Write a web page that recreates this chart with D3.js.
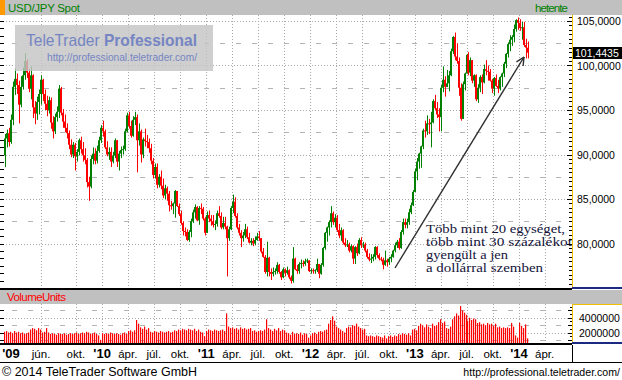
<!DOCTYPE html>
<html><head><meta charset="utf-8">
<script src="https://cdn.jsdelivr.net/npm/d3@7"></script>
<style>
html,body{margin:0;padding:0;background:#fff;}
svg{display:block;font-family:"Liberation Sans",Arial,sans-serif;}
</style></head><body>
<svg id="c" width="622" height="380"></svg>
<script>
// ---------- data ----------
const firstWeek = "2009-01-26";
const firstOpen = 89.9;
const closes = [91.8,92.4,91.4,93.9,97.6,98.5,97.8,95.6,97.6,98.9,100.5,99.2,97.4,98.9,95.3,94.6,95.9,96.8,98.4,96.8,
95.7,95.0,96.1,93.6,92.6,94.2,94.8,97.4,94.7,93.7,93.0,92.4,91.1,90.0,91.1,89.8,90.3,91.6,90.6,89.9,
89.4,86.9,86.4,89.5,90.1,89.3,90.4,91.6,93.0,92.6,90.8,90.0,90.3,89.2,89.9,91.6,89.2,90.1,90.5,90.6,
92.6,94.4,93.2,92.1,93.9,94.2,91.6,92.6,90.0,91.7,91.5,91.4,90.7,89.3,87.7,88.6,86.6,87.5,86.5,85.4,
86.2,85.6,84.3,84.2,84.5,85.9,84.2,83.3,82.3,81.4,81.3,80.4,81.3,82.5,83.5,84.1,82.6,84.0,83.9,82.8,
81.2,83.2,82.8,82.5,82.1,82.2,83.4,83.1,81.8,82.3,81.9,80.6,81.6,84.0,84.7,83.1,81.8,81.2,80.6,80.9,
81.6,80.7,80.1,80.3,80.0,80.4,80.8,80.6,79.1,78.5,76.8,78.4,76.8,76.6,76.8,76.9,77.6,76.8,76.2,77.1,
76.7,77.0,76.2,75.8,78.3,77.1,76.9,77.7,77.8,77.7,78.0,78.1,76.9,77.0,76.9,77.0,77.7,76.6,77.6,79.5,
81.2,81.8,82.4,83.4,82.4,82.9,81.5,80.9,81.5,80.1,79.8,79.9,79.2,79.7,78.3,79.6,78.9,80.4,79.8,79.9,
79.2,78.5,78.2,78.3,78.5,79.6,78.7,78.3,78.2,77.6,78.1,77.9,78.3,78.5,79.2,79.8,80.2,79.5,81.3,82.4,
82.1,82.4,83.5,84.3,85.8,88.1,89.2,90.1,90.9,92.7,92.6,93.5,93.4,93.6,96.0,95.2,94.5,94.2,97.5,98.4,
97.6,98.0,98.9,101.6,103.2,101.0,100.5,97.5,94.0,97.9,99.1,101.2,99.2,100.6,98.3,98.9,96.2,97.5,98.7,98.1,
99.6,99.4,99.3,98.3,97.4,98.6,97.7,97.4,98.7,99.1,100.2,101.3,102.4,102.9,103.2,104.1,105.1,104.8,104.2,104.3,
102.3,102.0,101.44];
const highs = [92.3,92.8,93.0,94.5,98.2,99.7,99.1,98.3,98.8,99.8,101.4,100.7,99.6,99.9,99.0,96.0,96.5,97.3,98.9,98.5,
97.3,96.6,96.5,96.4,94.3,94.6,95.4,97.8,97.6,95.1,94.5,93.5,92.7,91.7,91.4,91.3,90.6,91.8,92.0,91.4,
90.7,89.6,87.5,89.9,90.8,90.7,91.0,92.0,93.3,93.8,92.8,91.5,90.8,90.8,90.3,91.8,91.6,90.4,90.9,91.0,
92.9,94.7,94.8,93.8,94.3,94.8,94.5,93.5,92.8,91.9,92.9,92.2,91.8,91.2,89.6,89.0,89.0,87.8,88.2,87.3,
86.6,86.4,85.9,84.8,84.6,86.0,85.9,84.5,83.7,82.5,81.8,81.6,81.5,82.8,83.8,84.4,84.2,84.2,84.5,84.1,
83.0,83.6,83.7,83.2,83.2,82.6,83.7,84.2,83.5,83.0,83.0,82.0,81.9,84.2,85.5,85.2,83.4,82.2,81.5,81.3,
82.2,81.9,81.2,80.6,80.6,80.8,81.2,81.4,80.6,79.5,78.7,80.2,78.5,77.2,77.3,77.2,77.9,77.7,76.9,77.3,
77.2,77.4,77.1,76.4,79.6,78.4,77.6,77.9,78.2,78.1,78.3,78.3,78.1,77.2,77.2,77.1,78.3,77.7,77.8,79.6,
81.3,81.9,82.6,84.2,83.6,83.3,83.2,82.2,81.8,81.6,80.6,80.4,80.1,79.9,79.8,79.7,80.0,80.6,80.7,80.2,
80.1,79.4,78.9,78.8,78.8,79.7,79.7,78.9,78.5,78.4,79.2,78.3,78.5,78.8,79.3,80.1,80.4,80.6,81.5,82.8,
82.8,82.8,83.9,84.6,86.0,88.4,89.6,90.2,91.0,92.9,93.8,94.4,94.0,94.8,96.2,96.7,95.9,95.2,97.8,99.9,
98.8,99.5,99.4,101.9,103.3,103.7,102.5,100.9,98.0,98.2,99.2,101.3,101.5,100.9,100.6,99.0,99.0,97.9,98.9,99.0,
100.1,100.6,100.0,99.6,98.5,98.7,99.0,98.4,98.8,99.2,100.4,101.4,102.6,103.4,103.4,104.6,105.2,105.4,105.2,104.9,
104.9,103.0,102.7];
const lows = [88.6,90.8,90.9,91.2,93.3,96.7,96.8,93.5,95.3,97.3,98.4,98.6,97.0,96.2,94.1,93.4,93.9,94.5,95.6,96.0,
95.0,94.3,94.6,92.9,91.8,92.3,93.7,94.1,94.4,93.0,92.5,91.8,90.6,89.7,89.6,88.2,89.2,89.9,90.1,89.2,
88.9,86.3,84.8,86.2,88.9,88.9,89.0,90.2,91.3,92.0,90.6,89.8,89.4,88.6,89.0,89.6,88.6,88.2,89.6,90.0,
90.4,92.5,92.9,91.9,92.0,93.3,88.0,91.0,89.1,89.6,90.9,90.7,90.2,88.9,87.3,87.3,86.2,86.3,86.1,85.1,
85.0,84.8,83.6,83.8,83.3,82.9,84.1,83.1,82.1,80.9,80.8,80.3,80.2,80.7,82.3,82.8,82.5,82.1,83.3,82.6,
80.9,81.2,82.4,82.0,81.8,81.5,81.9,82.9,81.6,81.6,81.6,76.3,80.3,81.5,83.4,82.9,81.6,80.9,79.6,80.2,
80.6,80.5,80.0,79.8,79.7,79.8,80.3,80.3,78.9,78.4,76.6,76.3,76.3,75.9,76.3,76.5,76.6,76.6,75.9,76.1,
76.3,76.5,76.0,75.5,75.6,77.0,76.6,76.6,77.2,77.4,77.5,77.8,76.8,76.6,76.6,76.6,76.8,76.1,76.5,77.4,
79.3,80.2,80.9,81.8,82.1,81.8,81.3,80.6,80.3,79.9,79.6,79.6,79.0,79.0,77.7,77.7,78.6,78.8,79.5,79.5,
79.0,78.3,78.0,77.8,78.0,78.2,78.4,78.1,78.0,77.1,77.5,77.4,77.6,77.9,78.4,79.0,79.5,79.3,79.4,81.0,
81.7,81.7,82.1,83.3,84.2,85.8,87.1,88.4,88.5,90.6,91.9,92.2,92.3,90.8,93.5,95.0,94.1,92.6,92.6,97.0,
96.5,97.6,97.1,98.8,101.3,100.6,100.2,96.6,93.8,94.0,97.2,99.1,98.9,98.8,98.0,97.6,96.0,95.8,97.0,96.8,
98.0,98.9,98.3,98.2,96.9,96.6,97.6,96.9,97.2,97.6,98.7,99.7,100.9,101.6,102.2,102.6,103.8,104.0,103.9,102.9,
102.1,100.8,100.8];
const volumesM = [2.1,2.2,2.0,2.1,1.9,2.2,2.0,2.1, 1.9,2.0,1.8,1.9,2.0, 2.4,2.6,2.5,2.3,2.6,2.4,2.0, 2.1,2.6,2.0,
1.8,1.9,1.8,1.7,1.9,1.8,1.8,1.9,1.7,1.8,1.9,1.8,
1.9,2.0,1.8,1.9,2.0,1.9,2.1,2.0,1.8,1.9,2.0,1.8,1.6, 1.0,
1.9,1.8,1.9,1.8,2.0,1.9,1.8,1.9,1.8,1.7,1.9,2.0,1.8,
2.2,2.3,2.1,2.3, 3.7,3.2,2.7, 2.5,2.8,2.4,2.6,
2.1,2.0,2.2,2.1,2.0,2.2,2.1,2.0,2.1,2.2,2.0,2.1,2.3,2.2,
2.4,2.3,2.5,2.4,2.3,2.5,2.4,2.3,2.5,2.2,2.4, 2.1,2.0,1.5,
2.2,2.4,2.3,2.2,2.4,2.3,2.2,2.3,2.4,2.2, 4.6,
2.8,2.6,2.7,2.5,2.6,2.4,2.7,2.5,2.6,2.4,2.5,2.6,
2.2,2.3,2.1,2.2,2.3,2.2,2.4, 3.8,
2.6,2.4,2.2,2.5,2.3,2.6,2.2,2.4,2.3,
2.0,1.9,1.7,2.1,1.8,1.9,1.8,2.0,1.7,1.9,1.8, 1.3,
1.6,1.9,2.0,1.8,2.1,2.2,2.1,2.3,2.4,
3.2,3.7,4.2,3.6, 2.8,2.6,2.4,2.2,2.0,
2.6,2.8,2.7,3.0,2.9,3.2,2.8,2.6,2.4,2.5,
1.6,1.5,1.6,1.5,1.4,1.6,1.5,1.4,
1.3,1.6,1.2,1.5,1.6,1.4,1.6,1.5,
1.8,1.7,1.9,1.8,1.7,1.9,1.6, 2.4,2.5,2.3,
2.9,3.2,3.0,2.7,3.1,2.8,2.6,3.2,2.9,3.0,
3.4,3.8,3.3,3.5, 2.6,2.5,2.8, 3.8,4.2,4.6,4.3, 5.6, 5.0,4.7,4.4,
3.6,4.0,3.7,3.9,3.8, 3.3,3.4,3.1,3.2,3.0,3.3,3.1,3.2,
2.9,3.2,2.7,2.8,2.6,2.7,2.6, 2.7,2.6,3.3,2.8, 1.6,1.3, 3.3,2.9, 2.6, 3.1, 1.2];
const tickDates = ["2009-01-01","2009-06-01","2009-10-01","2010-01-01","2010-04-01","2010-07-01","2010-10-01",
"2011-01-01","2011-04-01","2011-07-01","2011-10-01","2012-01-01","2012-04-01","2012-07-01","2012-10-01",
"2013-01-01","2013-04-01","2013-07-01","2013-10-01","2014-01-01","2014-04-01"];
const tickLabels = ["'09","jún.","okt.","'10","ápr.","júl.","okt.","'11","ápr.","júl.","okt.",
"'12","ápr.","júl.","okt.","'13","ápr.","júl.","okt.","'14","ápr."];
const priceTicks = [80,85,90,95,100,105];
const volumeTicks = [2,4];
const lastPrice = 101.4435;
const annotationLines = ["Több mint 20 egységet,","több mint 30 százalékot","gyengült a jen","a dollárral szemben"];

// ---------- layout ----------
const W = 622, H = 380;
const plotR = 572;
const mainTop = 15, mainBot = 288;
const volTop = 304, volBot = 343;
const GREEN = "#008000", RED = "#ff0000";
const svg = d3.select("#c");
const parse = d3.timeParse("%Y-%m-%d");
const start = parse(firstWeek);
const weeks = closes.map((c,i)=>({
  date: d3.timeDay.offset(start, 7*i),
  o: i===0 ? firstOpen : closes[i-1], c, h: highs[i], l: lows[i], v: volumesM[i]
}));

const x = d3.scaleTime().domain([new Date(2009,0,1), new Date(2014,0,1)]).range([-2, 519]);
const y = d3.scaleLinear().domain([80,105]).range([243.5,21]);
const yv = d3.scaleLinear().domain([0,4]).range([347.2,317.8]);
const ticks = tickDates.map((d,i)=>({date: parse(d), label: tickLabels[i], year: tickLabels[i].startsWith("'")}));

svg.append("rect").attr("width",W).attr("height",H).attr("fill","#fff");
const defs = svg.append("defs");
defs.append("clipPath").attr("id","cm").append("rect").attr("x",0).attr("y",mainTop).attr("width",plotR).attr("height",mainBot-mainTop);
defs.append("clipPath").attr("id","cv").append("rect").attr("x",0).attr("y",volTop).attr("width",plotR).attr("height",volBot-volTop);

// ---------- main panel ----------
const gm = svg.append("g").attr("clip-path","url(#cm)");
const dotted = {stroke:"#a8a8a8", dash:"1,2"};
priceTicks.forEach(p=>{
  gm.append("line").attr("x1",0).attr("x2",plotR).attr("y1",Math.round(y(p))+0.5).attr("y2",Math.round(y(p))+0.5)
    .attr("stroke",dotted.stroke).attr("stroke-dasharray",dotted.dash);
});
d3.range(priceTicks.length-1).forEach(k=>{
  const p = (priceTicks[k]+priceTicks[k+1])/2;
  gm.append("line").attr("x1",12).attr("x2",plotR).attr("y1",Math.round(y(p))+0.5).attr("y2",Math.round(y(p))+0.5)
    .attr("stroke","#b4b4b4").attr("stroke-dasharray","5,11");
});
ticks.forEach(t=>{
  const xx = Math.round(x(t.date))+0.5;
  if (xx < 2) return;
  gm.append("line").attr("x1",xx).attr("x2",xx).attr("y1",mainTop).attr("y2",mainBot)
    .attr("stroke",dotted.stroke).attr("stroke-dasharray",dotted.dash);
});
// left edge small ticks
d3.range(75,106,5/6).forEach(p=>{
  gm.append("line").attr("x1",0).attr("x2",4).attr("y1",Math.round(y(p))+0.5).attr("y2",Math.round(y(p))+0.5).attr("stroke","#000");
});
// candles
const cg = gm.append("g");
weeks.forEach(d=>{
  const xi = Math.round(x(d.date));
  const col = d.c >= d.o ? GREEN : RED;
  const top = y(Math.max(d.o,d.c)), bot = y(Math.min(d.o,d.c));
  const hi = y(Math.max(d.h, d.o, d.c)), lo = y(Math.min(d.l, d.o, d.c));
  cg.append("rect").attr("x",xi).attr("y",hi).attr("width",1).attr("height",Math.max(1,lo-hi)).attr("fill",col);
  cg.append("rect").attr("x",xi-1).attr("y",top).attr("width",2).attr("height",Math.max(1,bot-top)).attr("fill",col);
});

// logo
const logo = svg.append("g");
logo.append("rect").attr("x",15).attr("y",25).attr("width",198).attr("height",46).attr("fill","#c4c4c4").attr("opacity",0.82);
const lt = logo.append("text").attr("x",26).attr("y",46).attr("font-size",17).attr("fill","#7585c3")
  .attr("textLength",171).attr("lengthAdjust","spacingAndGlyphs");
lt.append("tspan").text("TeleTrader ");
lt.append("tspan").attr("font-weight","bold").text("Professional");
logo.append("text").attr("x",47).attr("y",61).attr("font-size",11).attr("fill","#7585c3")
  .attr("textLength",150).attr("lengthAdjust","spacingAndGlyphs").text("http://professional.teletrader.com/");

// annotation arrow
const ax1 = 395, ay1 = 268, ax2 = 524, ay2 = 57;
const ann = svg.append("g").attr("stroke","#303030").attr("stroke-width",1.4).attr("fill","none");
ann.append("line").attr("x1",ax1).attr("y1",ay1).attr("x2",ax2).attr("y2",ay2);
const ang = Math.atan2(ay2-ay1, ax2-ax1);
[-0.45,0.45].forEach(a=>{
  ann.append("line").attr("x1",ax2).attr("y1",ay2)
    .attr("x2",ax2-9*Math.cos(ang+a)).attr("y2",ay2-9*Math.sin(ang+a));
});
const annW = [139,146,82,117];
annotationLines.forEach((s,i)=>{
  svg.append("text").attr("x",426).attr("y",232.5+i*13.1)
    .attr("font-family","'Liberation Serif','DejaVu Serif',serif")
    .attr("font-size",11.8).attr("fill","#14143a")
    .attr("textLength",annW[i]).attr("lengthAdjust","spacingAndGlyphs").text(s);
});

// title bar
svg.append("rect").attr("x",0).attr("y",0).attr("width",W).attr("height",15).attr("fill","#c0c0c0");
svg.append("rect").attr("x",0).attr("y",0).attr("width",5).attr("height",15).attr("fill","#ff9900");
svg.append("text").attr("x",8).attr("y",12).attr("font-size",11.5).attr("fill",GREEN).attr("textLength",72).text("USD/JPY Spot");
svg.append("text").attr("x",535).attr("y",12).attr("font-size",11.5).attr("fill",GREEN).attr("textLength",33).text("hetente");

// right price axis
svg.append("line").attr("x1",plotR+0.5).attr("x2",plotR+0.5).attr("y1",mainTop).attr("y2",mainBot).attr("stroke","#f0c000");
d3.range(75.5,105.6,0.5).forEach(p=>{
  const major = Math.abs(p/5-Math.round(p/5))<1e-6;
  const yy = Math.round(y(p))+0.5;
  svg.append("line").attr("x1",plotR-(major?5:3)).attr("x2",plotR).attr("y1",yy).attr("y2",yy).attr("stroke","#000");
});
priceTicks.forEach(p=>{
  svg.append("text").attr("x",577).attr("y",y(p)+4).attr("font-size",10.5).attr("fill","#000")
    .text(d3.format(".4f")(p).replace(".",","));
});
svg.append("rect").attr("x",573).attr("y",Math.round(y(lastPrice))-6).attr("width",49).attr("height",12).attr("fill","#000");
svg.append("text").attr("x",575).attr("y",Math.round(y(lastPrice))+4).attr("font-size",10.5).attr("fill","#fff")
  .text(d3.format(".4f")(lastPrice).replace(".",","));

// separators
svg.append("rect").attr("x",0).attr("y",mainBot).attr("width",plotR).attr("height",2).attr("fill","#000");
svg.append("rect").attr("x",plotR).attr("y",mainBot-1).attr("width",W-plotR).attr("height",2).attr("fill","#1a2a80");

// ---------- volume panel ----------
svg.append("rect").attr("x",0).attr("y",290).attr("width",W).attr("height",14).attr("fill","#c0c0c0");
svg.append("text").attr("x",7).attr("y",301).attr("font-size",11.5).attr("fill",RED).attr("textLength",59).text("VolumeUnits");
const gv = svg.append("g").attr("clip-path","url(#cv)");
[1,3,5].forEach(v=>{
  gv.append("line").attr("x1",12).attr("x2",plotR).attr("y1",Math.round(yv(v))+0.5).attr("y2",Math.round(yv(v))+0.5)
    .attr("stroke","#b4b4b4").attr("stroke-dasharray","5,11");
});
volumeTicks.forEach(v=>{
  gv.append("line").attr("x1",0).attr("x2",plotR).attr("y1",Math.round(yv(v))+0.5).attr("y2",Math.round(yv(v))+0.5)
    .attr("stroke",dotted.stroke).attr("stroke-dasharray",dotted.dash);
});
ticks.forEach(t=>{
  const xx = Math.round(x(t.date))+0.5;
  if (xx < 2) return;
  gv.append("line").attr("x1",xx).attr("x2",xx).attr("y1",volTop).attr("y2",volBot)
    .attr("stroke",dotted.stroke).attr("stroke-dasharray",dotted.dash);
});
d3.range(1,6,1).forEach(v=>{
  gv.append("line").attr("x1",0).attr("x2",4).attr("y1",Math.round(yv(v))+0.5).attr("y2",Math.round(yv(v))+0.5).attr("stroke","#000");
});
weeks.forEach(d=>{
  const xi = Math.round(x(d.date));
  gv.append("rect").attr("x",xi-1).attr("y",yv(d.v)).attr("width",1.2).attr("height",volBot-yv(d.v)).attr("fill",RED);
});
svg.append("line").attr("x1",plotR+0.5).attr("x2",plotR+0.5).attr("y1",volTop).attr("y2",volBot).attr("stroke","#f0c000");
svg.append("line").attr("x1",plotR).attr("x2",W).attr("y1",volTop+0.5).attr("y2",volTop+0.5).attr("stroke","#f0c000");
d3.range(1,6,0.5).forEach(v=>{
  const yy = Math.round(yv(v))+0.5;
  if (yy < volTop || yy > volBot) return;
  svg.append("line").attr("x1",plotR-(v%1===0?4:2)).attr("x2",plotR).attr("y1",yy).attr("y2",yy).attr("stroke","#000");
});
volumeTicks.forEach(v=>{
  svg.append("text").attr("x",579).attr("y",yv(v*1)+4).attr("font-size",10.5).attr("fill","#000")
    .text(String(v*1000000));
});
svg.append("rect").attr("x",0).attr("y",volBot).attr("width",plotR).attr("height",2).attr("fill","#000");
svg.append("rect").attr("x",plotR).attr("y",volBot-1).attr("width",W-plotR).attr("height",2).attr("fill","#1a2a80");

// ---------- x axis ----------
ticks.forEach(t=>{
  const xx = Math.max(x(t.date), 11);
  svg.append("text").attr("x",xx).attr("y",358).attr("text-anchor","middle")
    .attr("font-size",t.year?13:11.5).attr("font-weight",t.year?"bold":"normal").attr("fill","#000").text(t.label);
});
svg.append("line").attr("x1",plotR+0.5).attr("x2",plotR+0.5).attr("y1",volBot+2).attr("y2",362).attr("stroke","#000");
svg.append("rect").attr("x",0).attr("y",362).attr("width",W).attr("height",1).attr("fill","#000");

// ---------- footer ----------
svg.append("text").attr("x",2).attr("y",376).attr("font-size",12).attr("fill","#000")
  .attr("textLength",195).attr("lengthAdjust","spacingAndGlyphs").text("© 2014 TeleTrader Software GmbH");
svg.append("text").attr("x",620).attr("y",376).attr("text-anchor","end").attr("font-size",10.6).attr("fill","#000")
  .text("http://professional.teletrader.com/");
</script>
</body></html>
